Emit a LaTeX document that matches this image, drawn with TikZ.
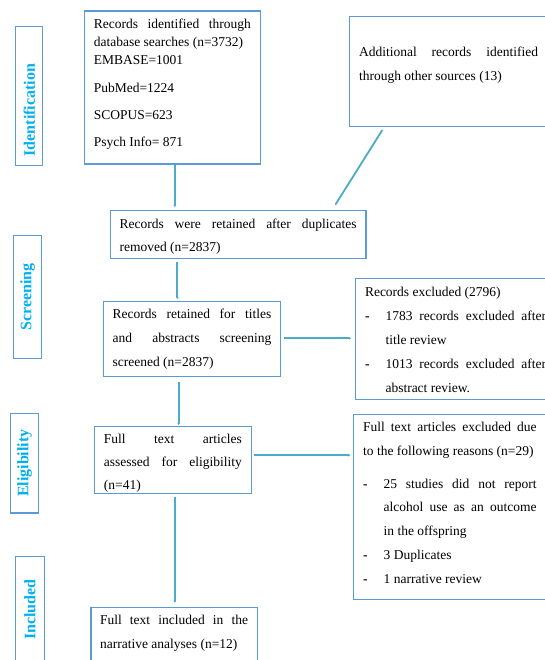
\documentclass[tikz,border=0pt]{standalone}
\usepackage{fontspec}
\setmainfont{Liberation Serif}
\usetikzlibrary{arrows.meta}

\definecolor{boxblue}{HTML}{5B9BD5}
\definecolor{linkteal}{HTML}{4BACC6}
\definecolor{stagecyan}{HTML}{00B0F0}

% dash items in the exclusion boxes
\newcommand\exitem[1]{\par\hangindent=20.5pt\hangafter=1\noindent\makebox[20.5pt][l]{\textbf{-}}#1}

\tikzset{
  recbox/.style={draw=boxblue, line width=1.2pt, anchor=north west, outer sep=0pt,
    inner xsep=9.4pt, inner ysep=0pt, align=justify, font=\fontsize{13.5}{24}\selectfont},
  stage/.style={draw=boxblue, line width=1.2pt, rotate=90, outer sep=0pt, inner sep=0pt,
    text=stagecyan, font=\fontsize{16}{18}\selectfont\bfseries},
  link/.style={draw=linkteal, line width=1.8pt, -{Latex[length=2pt,width=3pt]}}
}

\begin{document}
\begin{tikzpicture}[x=1pt,y=-1pt]

\useasboundingbox[fill=white] (0,0) rectangle (545,660);
\clip (0,0) rectangle (545,660);

% Stage labels
\node[stage, minimum width=139pt, minimum height=27.2pt, text width=121pt, align=left, inner xsep=9pt] (lblid) at (29.2,95.8) {Identification};
\node[stage, minimum width=122.6pt, minimum height=28.1pt] (lblsc) at (27.65,297) {Screening};
\node[stage, minimum width=99.7pt, minimum height=27.4pt] (lblel) at (24.5,463.2) {Eligibility};
\node[stage, minimum width=106pt, minimum height=28.9pt] (lblin) at (30,609.7) {Included};

% Identification
\node[recbox, text width=157pt, inner xsep=9.3pt, text height=17.8pt, text depth=135.2pt, font=\fontsize{13.5}{18}\selectfont] (db) at (84.5,11)
  {Records identified through\linebreak database searches (n=3732)\\ EMBASE=1001\\[9.3pt] PubMed=1224\\[9.3pt] SCOPUS=623\\[9.3pt] Psych Info= 871};
\node[recbox, text width=179pt, inner xsep=9.7pt, text height=39.5pt, text depth=70.5pt] (other) at (349.3,16.7)
  {Additional records identified\linebreak through other sources (13)};

% Screening
\node[recbox, text width=237pt, text height=17.5pt, text depth=30.1pt, font=\fontsize{13.5}{23.3}\selectfont] (dedup) at (110.2,210.7)
  {Records were retained after duplicates\linebreak removed (n=2837)};
\node[recbox, text width=158.8pt, text height=17.1pt, text depth=57.9pt] (screen) at (103.2,301.7)
  {Records retained for titles\linebreak and abstracts screening\linebreak screened (n=2837)};
\node[recbox, text width=181pt, text height=17.5pt, text depth=103.1pt] (excl) at (355.6,278.7)
  {Records excluded (2796)
   \exitem{1783 records excluded after\linebreak title review}
   \exitem{1013 records excluded after\linebreak abstract review.}\par};

% Eligibility
\node[recbox, text width=138pt, text height=16.8pt, text depth=49.8pt, font=\fontsize{13.5}{23}\selectfont] (full) at (94.5,426.7)
  {Full text articles\linebreak assessed for eligibility\linebreak (n=41)};
\node[recbox, text width=173.3pt, inner xsep=9.7pt, text height=17.5pt, text depth=167.5pt, font=\fontsize{13.5}{23.8}\selectfont] (fullexcl) at (353.5,414.3)
  {Full text articles excluded due\linebreak to the following reasons (n=29)\par\vspace{8.7pt}
   \exitem{25 studies did not report\linebreak alcohol use as an outcome\linebreak in the offspring}
   \exitem{3 Duplicates}
   \exitem{1 narrative review}\par};

% Included
\node[recbox, text width=148pt, inner xsep=9.1pt, text height=17.5pt, text depth=55pt] (final) at (91,607.3)
  {Full text included in the\linebreak narrative analyses (n=12)};

% Flow
\draw[link, shorten <=1pt, shorten >=3.7pt] ([xshift=2.5pt]db.south) -- ([xshift=2.5pt]db.south |- dedup.north);
\draw[link, shorten <=3.9pt, shorten >=6.7pt] ([xshift=35.1pt]other.south west) -- ([xshift=-34.4pt]dedup.north east);
\draw[link, shorten <=3.7pt, shorten >=2.7pt] ([xshift=67.1pt]dedup.south west) -- ([xshift=67.1pt]dedup.south west |- screen.north);
\draw[link, shorten <=3.5pt, shorten >=4.6pt] ([yshift=0.9pt]screen.east) -- ([yshift=0.9pt]screen.east -| excl.west);
\draw[link, shorten <=5pt, shorten >=1.7pt] ([xshift=75.5pt]screen.south west) -- ([xshift=75.5pt]screen.south west |- full.north);
\draw[link, shorten <=2.4pt, shorten >=3.1pt] ([yshift=4.7pt]full.east) -- ([yshift=4.7pt]full.east -| fullexcl.west);
\draw[link, shorten <=3.4pt, shorten >=4.6pt] ([xshift=80.3pt]full.south west) -- ([xshift=80.3pt]full.south west |- final.north);

\end{tikzpicture}
\end{document}
